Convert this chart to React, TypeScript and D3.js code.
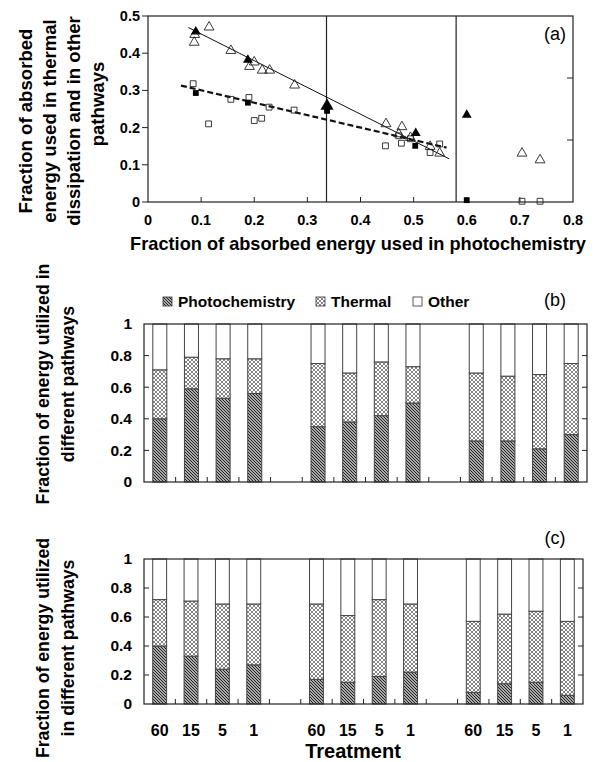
import React from "react";
import * as d3 from "d3";

// ---- panel (a) data: [photochemistry fraction, thermal+other fraction]
const triOpen: [number, number][] = [
  [0.088, 0.45], [0.087, 0.429], [0.115, 0.47], [0.156, 0.407], [0.2, 0.376],
  [0.191, 0.364], [0.215, 0.354], [0.229, 0.354], [0.276, 0.314],
  [0.448, 0.21], [0.478, 0.202], [0.472, 0.183], [0.494, 0.173],
  [0.531, 0.149], [0.549, 0.131], [0.704, 0.131], [0.738, 0.113],
];
const triFilled: [number, number][] = [
  [0.09, 0.458], [0.188, 0.382], [0.337, 0.258], [0.504, 0.185], [0.6, 0.234],
];
const sqOpen: [number, number][] = [
  [0.085, 0.318], [0.114, 0.21], [0.156, 0.276], [0.19, 0.281], [0.2, 0.219],
  [0.214, 0.225], [0.228, 0.255], [0.275, 0.247], [0.447, 0.151], [0.477, 0.158],
  [0.472, 0.178], [0.494, 0.17], [0.531, 0.133], [0.549, 0.156], [0.704, 0.002], [0.738, 0.002],
];
const sqFilled: [number, number][] = [
  [0.09, 0.293], [0.188, 0.267], [0.337, 0.245], [0.503, 0.151], [0.6, 0.005],
];
// regression lines (end points)
const solidFit: [number, number][] = [[0.076, 0.469], [0.567, 0.116]];
const dashedFit: [number, number][] = [[0.062, 0.313], [0.562, 0.146]];
const dividers = [0.336, 0.58];
const aXTicks = [0, 0.1, 0.2, 0.3, 0.4, 0.5, 0.6, 0.7, 0.8];
const aYTicks = [0, 0.1, 0.2, 0.3, 0.4, 0.5];
const aRightTicks = [0.5 / 3, 1 / 3];

// ---- panels (b) and (c)
const groups = ["g1", "g2", "g3"];
const treatments = ["60", "15", "5", "1"];
const keys = ["photo", "thermal", "other"];
const legendLabels = ["Photochemistry", "Thermal", "Other"];
const barYTicks = [0, 0.2, 0.4, 0.6, 0.8, 1];

const bPhoto = [0.4, 0.59, 0.53, 0.56, 0.35, 0.38, 0.42, 0.5, 0.26, 0.26, 0.21, 0.3];
const bThermal = [0.31, 0.2, 0.25, 0.22, 0.4, 0.31, 0.34, 0.23, 0.43, 0.41, 0.47, 0.45];
const cPhoto = [0.4, 0.33, 0.24, 0.27, 0.17, 0.15, 0.19, 0.22, 0.08, 0.14, 0.15, 0.06];
const cThermal = [0.32, 0.38, 0.45, 0.42, 0.52, 0.46, 0.53, 0.47, 0.49, 0.48, 0.49, 0.51];

const FONT = "'Liberation Sans', Arial, sans-serif";

const slotDomain = groups.flatMap((g, i) => [
  ...treatments.map(t => `${g}-${t}`),
  ...(i < groups.length - 1 ? [`${g}-gap`] : []),
]);
const barIds = groups.flatMap(g => treatments.map(t => `${g}-${t}`));

type Row = { id: string; photo: number; thermal: number; other: number };
const makeRows = (photo: number[], thermal: number[]): Row[] =>
  barIds.map((id, i) => ({ id, photo: photo[i], thermal: thermal[i], other: 1 - photo[i] - thermal[i] }));

const fills: Record<string, string> = {
  photo: "url(#hatchPhoto)",
  thermal: "url(#hatchThermal)",
  other: "#fff",
};

const ScatterPanel = () => {
  const x = d3.scaleLinear().domain([0, 0.8]).range([148, 573]);
  const y = d3.scaleLinear().domain([0, 0.5]).range([202, 16]);
  const tri = d3.symbol(d3.symbolTriangle, 42)();
  const triBig = d3.symbol(d3.symbolTriangle, 75)();
  const sq = d3.symbol(d3.symbolSquare, 34)();
  const ln = d3.line<[number, number]>().x(d => x(d[0])).y(d => y(d[1]));
  const [x0, x1] = x.range();
  const [y0, y1] = y.range();
  return (
    <g fontFamily={FONT} fontWeight="bold">
      <rect x={x0} y={y1} width={x1 - x0} height={y0 - y1} fill="none" stroke="#222" strokeWidth={1.2} />
      {dividers.map(d => (
        <line key={d} x1={x(d)} x2={x(d)} y1={y1} y2={y0} stroke="#222" strokeWidth={1.2} />
      ))}
      {aYTicks.map(t => (
        <g key={t}>
          <line x1={x0 - 6} x2={x0} y1={y(t)} y2={y(t)} stroke="#222" />
          <text x={x0 - 8} y={y(t)} dy="0.35em" textAnchor="end" fontSize={14.5}>{d3.format("~g")(t)}</text>
        </g>
      ))}
      {aRightTicks.map(t => (
        <line key={t} x1={x1 - 6} x2={x1} y1={y(t)} y2={y(t)} stroke="#222" />
      ))}
      {aXTicks.map(t => (
        <g key={t}>
          {t > 0 && t < 0.8 && <line x1={x(t)} x2={x(t)} y1={y0} y2={y0 - 5} stroke="#222" />}
          <text x={x(t)} y={225} textAnchor="middle" fontSize={14.5}>{d3.format("~g")(t)}</text>
        </g>
      ))}
      <path d={ln(solidFit) ?? ""} fill="none" stroke="#111" strokeWidth={1} />
      <path d={ln(dashedFit) ?? ""} fill="none" stroke="#111" strokeWidth={2.2} strokeDasharray="6,3" />
      {triOpen.map((p, i) => (
        <path key={"to" + i} d={tri ?? ""} transform={`translate(${x(p[0])},${y(p[1])})`} fill="none" stroke="#222" strokeWidth={0.9} />
      ))}
      {sqOpen.map((p, i) => (
        <path key={"so" + i} d={sq ?? ""} transform={`translate(${x(p[0])},${y(p[1])})`} fill="none" stroke="#222" strokeWidth={0.9} />
      ))}
      {triFilled.map((p, i) => (
        <path key={"tf" + i} d={(p[0] > 0.3 && p[0] < 0.4 ? triBig : tri) ?? ""} transform={`translate(${x(p[0])},${y(p[1])})`} fill="#000" />
      ))}
      {sqFilled.map((p, i) => (
        <path key={"sf" + i} d={sq ?? ""} transform={`translate(${x(p[0])},${y(p[1])})`} fill="#000" />
      ))}
      <text x={555} y={40} textAnchor="middle" fontSize={18} fontWeight="normal">(a)</text>
      <text x={358} y={250} textAnchor="middle" fontSize={18.2}>Fraction of absorbed energy used in photochemistry</text>
      {["Fraction of absorbed", "energy used in thermal", "dissipation and in other"].map((s, i) => (
        <text key={s} transform={`translate(${25 + i * 24},121) rotate(-90)`} textAnchor="middle" dominantBaseline="central" fontSize={18.6}>{s}</text>
      ))}
      <text transform={`translate(97,104) rotate(-90)`} textAnchor="middle" dominantBaseline="central" fontSize={18.6}>pathways</text>
    </g>
  );
};

const BarPanel = ({ rows, top, bottom, right, label, labelY, yTitle, titleY, showX }: {
  rows: Row[]; top: number; bottom: number; right: number; label: string; labelY: number;
  yTitle: string[]; titleY: number; showX: boolean;
}) => {
  const x = d3.scaleBand<string>().domain(slotDomain).range([144, right]).paddingInner(0.557).paddingOuter(0.278);
  const y = d3.scaleLinear().domain([0, 1]).range([bottom, top]);
  const series = d3.stack<Row>().keys(keys)(rows);
  const [x0, x1] = x.range();
  const gapHalf = (x.step() * x.paddingInner()) / 2;
  const boundaries = slotDomain.slice(1).map(s => (x(s) ?? 0) - gapHalf);
  return (
    <g fontFamily={FONT} fontWeight="bold">
      {series.map(s => (
        <g key={s.key}>
          {s.map(d => (
            <rect key={d.data.id} x={x(d.data.id)} width={x.bandwidth()} y={y(d[1])} height={y(d[0]) - y(d[1])}
              fill={fills[s.key]} stroke="#444" strokeWidth={1} />
          ))}
        </g>
      ))}
      <rect x={x0} y={top} width={x1 - x0} height={bottom - top} fill="none" stroke="#222" strokeWidth={1.2} />
      {boundaries.map((b, i) => (
        <line key={i} x1={b} x2={b} y1={bottom} y2={bottom - 5} stroke="#222" />
      ))}
      {barYTicks.map(t => (
        <g key={t}>
          {t > 0 && t < 1 && <line x1={x0} x2={x0 + 5} y1={y(t)} y2={y(t)} stroke="#222" />}
          {t > 0 && t < 1 && <line x1={x1 - 5} x2={x1} y1={y(t)} y2={y(t)} stroke="#222" />}
          <text x={132} y={y(t)} dy="0.35em" textAnchor="end" fontSize={15.5}>{d3.format("~g")(t)}</text>
        </g>
      ))}
      {showX && barIds.map(id => (
        <text key={id} x={(x(id) ?? 0) + x.bandwidth() / 2} y={736} textAnchor="middle" fontSize={16}>{id.split("-")[1]}</text>
      ))}
      {showX && <text x={353} y={758} textAnchor="middle" fontSize={20}>Treatment</text>}
      <text x={555} y={labelY} textAnchor="middle" fontSize={18} fontWeight="normal">{label}</text>
      {yTitle.map((s, i) => (
        <text key={s} transform={`translate(${43 + i * 25},${titleY}) rotate(-90)`} textAnchor="middle" dominantBaseline="central" fontSize={17.7}>{s}</text>
      ))}
    </g>
  );
};

const Legend = () => {
  const pos = [163, 316, 413];
  return (
    <g fontFamily={FONT} fontWeight="bold" fontSize={15.5}>
      {keys.map((k, i) => (
        <g key={k} transform={`translate(${pos[i]},297)`}>
          <rect x={0} y={0} width={9} height={9} fill={fills[k]} stroke="#333" strokeWidth={0.8} />
          <text x={15} y={10}>{legendLabels[i]}</text>
        </g>
      ))}
    </g>
  );
};

export default function App() {
  const bRows = makeRows(bPhoto, bThermal);
  const cRows = makeRows(cPhoto, cThermal);
  return (
    <svg width={594} height={762} style={{ position: "absolute", left: 0, top: 0, background: "#fff" }}>
      <defs>
        <pattern id="hatchPhoto" width={3} height={3} patternUnits="userSpaceOnUse">
          <rect width={3} height={3} fill="#aaa" />
          <path d="M-1,-1 L4,4 M-1,2 L1,4 M2,-1 L4,1" stroke="#222" strokeWidth={1} />
        </pattern>
        <pattern id="hatchThermal" width={4} height={4} patternUnits="userSpaceOnUse">
          <rect width={4} height={4} fill="#fff" />
          <path d="M0,0 L4,4 M4,0 L0,4" stroke="#777" strokeWidth={0.9} />
        </pattern>
      </defs>
      <ScatterPanel />
      <Legend />
      <BarPanel rows={bRows} top={324} bottom={482} right={587} label="(b)" labelY={306} showX={false}
        yTitle={["Fraction of energy utilized in", "different pathways"]} titleY={384} />
      <BarPanel rows={cRows} top={559} bottom={704} right={583} label="(c)" labelY={544} showX={true}
        yTitle={["Fraction of energy utilized", "in different pathways"]} titleY={648} />
    </svg>
  );
}
